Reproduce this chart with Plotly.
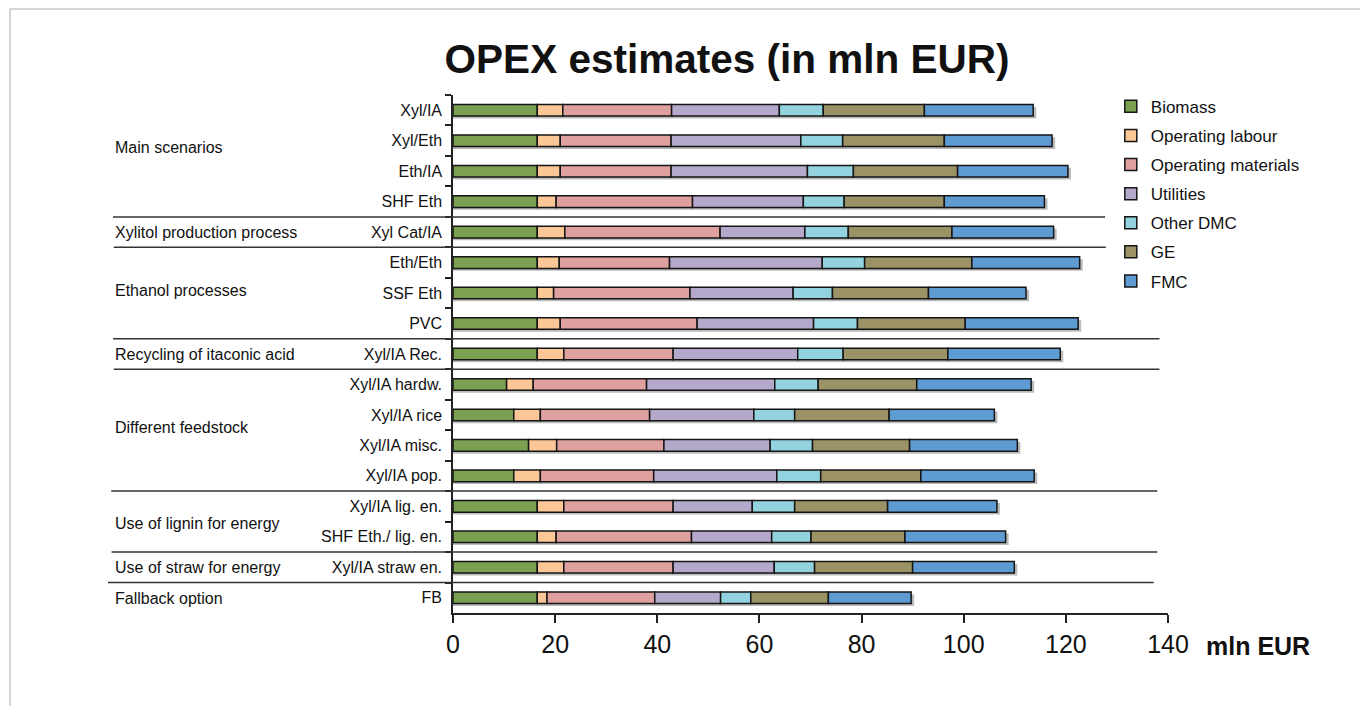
import numpy as np
import plotly.graph_objects as go

scenarios = ["Xyl/IA", "Xyl/Eth", "Eth/IA", "SHF Eth", "Xyl Cat/IA", "Eth/Eth", "SSF Eth", "PVC",
             "Xyl/IA Rec.", "Xyl/IA hardw.", "Xyl/IA rice", "Xyl/IA misc.", "Xyl/IA pop.",
             "Xyl/IA lig. en.", "SHF Eth./ lig. en.", "Xyl/IA straw en.", "FB"]

biomass = [16.5, 16.5, 16.5, 16.5, 16.5, 16.5, 16.5, 16.5, 16.5, 10.5, 11.9, 14.8, 11.9, 16.5, 16.5, 16.5, 16.5]
operating_labour = [5.0, 4.5, 4.5, 3.7, 5.4, 4.3, 3.2, 4.5, 5.2, 5.2, 5.2, 5.5, 5.2, 5.2, 3.7, 5.2, 1.9]
operating_materials = [21.3, 21.7, 21.7, 26.7, 30.4, 21.6, 26.7, 26.8, 21.4, 22.2, 21.4, 21.0, 22.2, 21.4, 26.5, 21.4, 21.1]
utilities = [21.1, 25.4, 26.7, 21.7, 16.6, 29.9, 20.2, 22.8, 24.4, 25.1, 20.4, 20.8, 24.1, 15.5, 15.7, 19.8, 12.9]
other_dmc = [8.6, 8.2, 9.0, 8.0, 8.5, 8.3, 7.7, 8.6, 8.9, 8.5, 8.0, 8.3, 8.6, 8.3, 7.7, 7.9, 5.9]
ge = [19.8, 19.9, 20.4, 19.6, 20.3, 21.0, 18.8, 21.1, 20.5, 19.3, 18.5, 19.0, 19.6, 18.2, 18.4, 19.2, 15.2]
fmc = [21.3, 21.1, 21.6, 19.6, 19.9, 21.1, 19.1, 22.1, 22.0, 22.4, 20.6, 21.1, 22.2, 21.4, 19.7, 19.9, 16.2]

series_names = ["Biomass", "Operating labour", "Operating materials", "Utilities", "Other DMC", "GE", "FMC"]
series_values = [biomass, operating_labour, operating_materials, utilities, other_dmc, ge, fmc]
series_colors = ["#7BA052", "#FCC796", "#DFA19F", "#B4A9CB", "#93D3DF", "#9B9365", "#5E9BD3"]

groups = ["Main scenarios", "Xylitol production process", "Ethanol processes", "Recycling of itaconic acid",
          "Different feedstock", "Use of lignin for energy", "Use of straw for energy", "Fallback option"]
group_label_pos = [1.23, 4.0, 5.9, 8.0, 10.4, 13.55, 15.0, 16.02]
separators = [3.5, 4.5, 7.5, 8.5, 12.5, 14.5, 15.5]
separator_ends = [0.912, 0.913, 0.988, 0.988, 0.985, 0.985, 0.980]
separator_starts = [-0.4755, -0.4745, -0.4755, -0.4745, -0.4780, -0.4775, -0.4825]

x_ticks = [0, 20, 40, 60, 80, 100, 120, 140]

FONT = "Liberation Sans, Arial, sans-serif"
BAR_W = 0.38

fig = go.Figure()

totals = np.sum(np.array(series_values), axis=0)
# drop shadow under each bar
fig.add_trace(go.Bar(
    y=scenarios, x=totals + 0.6, base=0, orientation="h",
    width=BAR_W, offset=-BAR_W / 2 + 0.08,
    marker=dict(color="rgba(60,60,60,0.35)", line=dict(width=0)),
    showlegend=False, hoverinfo="skip"))

cum = np.zeros(len(scenarios))
for i, (name, vals, col) in enumerate(zip(series_names, series_values, series_colors)):
    fig.add_trace(go.Bar(
        y=scenarios, x=vals, base=cum.copy(), orientation="h", name=name,
        width=BAR_W, offset=-BAR_W / 2,
        marker=dict(color=col, line=dict(color="#151515", width=1.5)),
        legendgroup=name))
    cum = cum + np.array(vals)

shapes = []
for yv, x0, x1 in zip(separators, separator_starts, separator_ends):
    shapes.append(dict(type="line", xref="paper", yref="y", x0=x0, x1=x1, y0=yv, y1=yv,
                       line=dict(color="#333333", width=1.5)))
# outer light frame
shapes.append(dict(type="line", xref="paper", yref="paper", x0=-0.6196, x1=1.27, y0=1.166, y1=1.166,
                   line=dict(color="#C8C8C8", width=1.5)))
shapes.append(dict(type="line", xref="paper", yref="paper", x0=-0.6196, x1=-0.6196, y0=1.166, y1=-0.2,
                   line=dict(color="#C8C8C8", width=1.5)))

annotations = []
for g, yp in zip(groups, group_label_pos):
    annotations.append(dict(text=g, xref="paper", yref="y", x=-0.4755, y=yp, xanchor="left",
                            yanchor="middle", showarrow=False, font=dict(size=16, color="#111111", family=FONT)))
annotations.append(dict(text="<b>mln EUR</b>", xref="paper", yref="paper", x=1.1259, y=-0.0637,
                        xanchor="center", yanchor="middle", showarrow=False,
                        font=dict(size=25, color="#111111", family=FONT)))

fig.update_layout(
    width=1360, height=706,
    barmode="overlay",
    paper_bgcolor="white", plot_bgcolor="white",
    margin=dict(l=453, r=192, t=95, b=93),
    title=dict(text="<b>OPEX estimates (in mln EUR)</b>", x=0.5346, xanchor="center",
               y=0.917, yanchor="middle", font=dict(size=40.5, color="#111111", family=FONT)),
    font=dict(family=FONT, color="#111111"),
    shapes=shapes,
    annotations=annotations,
    legend=dict(x=0.92, xanchor="left", y=1.012, yanchor="top", traceorder="grouped",
                font=dict(size=17, color="#111111", family=FONT), tracegroupgap=4,
                bgcolor="rgba(0,0,0,0)"),
    xaxis=dict(range=[0, 140], tickvals=x_ticks, ticks="outside", ticklen=8, tickwidth=1.5,
               tickcolor="#222222", showline=True, linecolor="#222222", linewidth=1.5,
               showgrid=False, zeroline=False, tickfont=dict(size=25, color="#111111", family=FONT),
               fixedrange=True),
    yaxis=dict(type="category", categoryorder="array", categoryarray=scenarios,
               range=[16.5, -0.5], ticks="outside", ticklen=6, tickwidth=1.5, tickcolor="#222222",
               tickson="boundaries", showline=True, linecolor="#222222", linewidth=1.5,
               showgrid=False, zeroline=False, ticklabelstandoff=6,
               tickfont=dict(size=16, color="#111111", family=FONT)),
)

fig.write_html("out.html")
